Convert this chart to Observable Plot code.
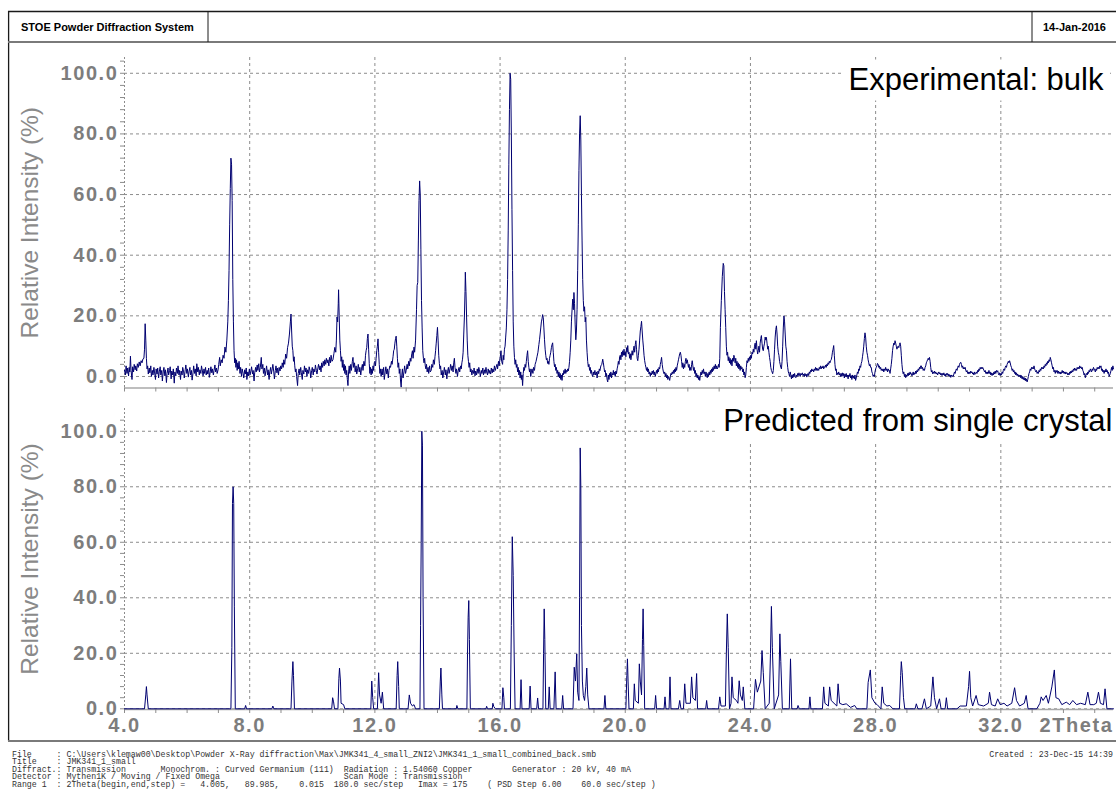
<!DOCTYPE html>
<html><head><meta charset="utf-8">
<script src="https://cdn.jsdelivr.net/npm/d3@7"></script>
<script src="https://cdn.jsdelivr.net/npm/@observablehq/plot@0.6"></script>
<style>
html,body{margin:0;padding:0;background:#fff;}
#page{position:relative;width:1116px;height:789px;overflow:hidden;background:#fff;}
#page svg{position:absolute;left:0;}
</style></head>
<body><div id="page"></div>
<script>
// ---------- data ----------
const xLabelTicks = [4, 8, 12, 16, 20, 24, 28, 32];
const xGridTicks = [8, 12, 16, 20, 24, 28, 32];
const xMinorTicks = [4,5,6,7,8,9,10,11,12,13,14,15,16,17,18,19,20,21,22,23,24,25,26,27,28,29,30,31,32,33,34,35];
const yLabelTicks = [0, 20, 40, 60, 80, 100];
const yMinorTicks = [0,4,8,12,16,20,24,28,32,36,40,44,48,52,56,60,64,68,72,76,80,84,88,92,96,100,104];
const panelTitles = ["Experimental: bulk", "Predicted from single crystal"];
const yTitle = "Relative Intensity (%)";
const xTitle = "2Theta";
const headerLeft = "STOE Powder Diffraction System";
const headerDate = "14-Jan-2016";
const footerLines = [
"File     : C:\\Users\\klemaw00\\Desktop\\Powder X-Ray diffraction\\Max\\JMK341_4_small_ZNI2\\JMK341_1_small_combined_back.smb",
"Title    : JMK341_1_small",
"Diffract.: Transmission       Monochrom. : Curved Germanium (111)  Radiation : 1.54060 Copper        Generator : 20 kV, 40 mA",
"Detector : Mythen1K / Moving / Fixed Omega                         Scan Mode : Transmission",
"Range 1  : 2Theta(begin,end,step) =   4.005,   89.985,    0.015  180.0 sec/step   Imax = 175    ( PSD Step 6.00    60.0 sec/step )"
];
const footerCreated = "Created : 23-Dec-15 14:39";

// experimental pattern [2theta, relative intensity]
const experimental = [
[4.00,2.0],[4.03,0.5],[4.05,3.5],[4.08,1.0],[4.10,2.8],[4.13,0.2],[4.15,3.0],[4.17,1.5],[4.19,6.7],[4.21,2.0],[4.24,-1.0],[4.26,3.2],[4.29,1.5],[4.31,4.0],[4.34,2.2],[4.36,3.5],[4.39,1.8],[4.41,4.2],[4.44,3.0],[4.47,4.8],[4.50,3.5],[4.53,5.2],[4.56,4.5],[4.59,5.8],[4.62,6.0],[4.64,9.0],[4.66,17.4],[4.68,12.0],[4.70,6.0],[4.72,2.5],
[4.74,3.5],[4.76,0.8],[4.79,2.8],[4.81,1.2],[4.84,3.5],[4.86,0.0],[4.89,2.0],[4.91,0.5],[4.94,3.0],[4.96,1.5],[4.99,-1.0],[5.01,2.5],[5.04,0.8],[5.06,2.8],[5.09,-0.5],[5.11,1.5],[5.14,3.2],[5.16,0.5],[5.19,2.0],[5.21,-1.5],[5.24,1.8],[5.26,3.0],[5.29,0.2],[5.31,2.2],[5.34,-2.0],[5.36,1.0],[5.39,2.8],[5.41,0.5],[5.44,2.0],[5.46,3.2],[5.49,-0.8],[5.51,1.8],[5.54,0.5],[5.56,2.5],[5.59,-2.2],[5.61,1.5],[5.64,0.2],[5.66,2.8],[5.69,1.0],[5.71,3.5],[5.74,0.5],[5.76,2.0],[5.79,-1.0],[5.81,1.8],[5.84,0.5],[5.86,3.0],[5.89,1.5],[5.91,-0.5],[5.94,2.2],[5.96,3.8],[5.99,1.0],[6.01,2.5],[6.04,-0.2],[6.06,1.5],[6.09,3.0],[6.11,0.5],[6.14,2.0],[6.16,-1.2],[6.19,1.2],[6.21,3.5],[6.24,1.0],[6.26,2.5],[6.29,0.2],[6.31,4.2],[6.34,1.5],[6.36,3.0],[6.39,0.5],[6.41,2.2],[6.44,1.0],[6.46,3.5],[6.49,1.8],[6.51,0.2],[6.54,2.5],[6.56,1.0],[6.59,3.0],[6.61,0.5],[6.64,2.0],[6.66,0.8],[6.69,2.8],[6.71,-0.3],[6.74,1.5],[6.76,3.2],[6.79,1.2],[6.81,2.5],[6.84,0.5],[6.86,2.0],[6.89,3.8],[6.91,1.5],[6.94,2.8],[6.96,1.0],[6.99,2.2],
[7.01,4.0],[7.04,6.3],[7.06,3.5],[7.09,5.5],[7.12,4.5],[7.15,7.0],[7.18,6.0],[7.21,9.7],[7.24,8.0],[7.27,12.0],[7.30,18.0],[7.32,25.0],[7.34,35.0],[7.36,50.0],[7.38,62.0],[7.40,72.0],[7.42,70.0],[7.44,58.0],[7.46,32.0],[7.48,18.0],[7.50,8.5],[7.52,4.5],[7.54,6.0],[7.56,3.0],[7.58,5.5],[7.60,2.0],[7.62,4.5],[7.64,2.5],[7.66,5.0],
[7.69,1.0],[7.71,3.0],[7.74,0.0],[7.76,2.5],[7.79,1.0],[7.81,-0.5],[7.84,2.2],[7.86,0.8],[7.89,2.8],[7.91,-1.0],[7.94,1.5],[7.96,0.2],[7.99,2.5],[8.01,0.5],[8.04,1.8],[8.06,3.2],[8.09,0.8],[8.11,2.0],[8.14,-1.5],[8.16,1.2],[8.19,3.0],[8.21,1.5],[8.24,3.8],[8.26,2.0],[8.29,4.2],[8.31,1.5],[8.34,3.0],[8.37,6.3],[8.39,2.5],[8.42,4.0],[8.44,1.0],[8.47,2.8],[8.49,0.2],[8.52,2.0],[8.54,3.5],[8.57,0.5],[8.59,2.2],[8.62,-1.0],[8.64,1.5],[8.67,3.0],[8.69,0.8],[8.72,2.5],[8.74,4.0],[8.77,1.5],[8.79,-0.8],[8.82,2.0],[8.84,3.5],[8.87,1.2],[8.89,2.8],[8.92,0.5],[8.94,3.0],[8.97,1.8],[8.99,3.5],[9.02,2.5],[9.04,4.5],[9.07,3.0],[9.09,5.5],[9.12,4.0],
[9.15,7.4],[9.18,6.0],[9.21,9.5],[9.24,11.0],[9.27,14.0],[9.30,18.0],[9.32,20.6],[9.34,15.0],[9.36,10.0],[9.38,8.5],[9.40,5.0],[9.42,6.5],[9.44,3.5],[9.46,1.5],[9.48,2.5],[9.50,0.0],[9.53,-3.0],[9.55,1.0],
[9.58,2.5],[9.60,0.5],[9.63,3.0],[9.65,1.2],[9.68,-1.0],[9.70,2.0],[9.73,0.8],[9.75,3.5],[9.78,1.5],[9.80,2.8],[9.83,0.0],[9.85,2.2],[9.88,1.0],[9.90,3.2],[9.93,1.8],[9.95,-0.5],[9.98,2.0],[10.00,3.0],[10.03,0.5],[10.05,2.5],[10.08,1.5],[10.10,3.8],[10.13,2.0],[10.15,0.8],[10.18,2.8],[10.20,4.0],[10.23,2.2],[10.25,3.5],[10.28,1.5],[10.30,4.5],[10.33,3.0],[10.35,5.0],[10.38,3.5],[10.40,5.5],[10.43,4.0],[10.45,6.0],[10.48,4.5],[10.50,5.5],[10.53,3.5],[10.55,6.3],[10.58,4.5],[10.60,7.0],[10.63,5.0],[10.66,5.5],[10.69,7.5],
[10.72,9.6],[10.75,8.0],[10.77,12.0],[10.79,19.6],[10.81,18.0],[10.83,24.0],[10.84,28.6],[10.86,20.0],[10.88,12.0],[10.90,8.5],[10.92,5.0],[10.94,6.5],[10.96,3.0],[10.98,5.5],[11.00,2.0],[11.02,4.0],[11.04,1.0],[11.06,3.5],[11.08,0.5],[11.10,2.0],[11.12,-1.0],[11.14,-3.0],[11.16,1.5],
[11.18,3.5],[11.20,1.0],[11.23,4.0],[11.25,2.0],[11.28,5.0],[11.30,6.3],[11.32,3.0],[11.35,4.5],[11.37,1.5],[11.40,3.5],[11.42,0.8],[11.45,2.5],[11.47,4.0],[11.50,1.5],[11.52,3.0],[11.55,0.5],[11.57,2.5],[11.60,4.0],[11.62,2.0],[11.65,5.0],[11.68,3.5],[11.70,7.0],
[11.72,8.5],[11.74,9.5],[11.76,12.5],[11.78,14.0],[11.80,9.0],[11.82,4.3],[11.84,1.0],[11.86,3.0],[11.88,0.5],[11.90,2.5],[11.92,1.0],[11.94,3.5],[11.96,2.0],[11.98,4.5],[12.00,5.0],[12.02,3.5],[12.04,6.0],[12.06,8.5],[12.08,10.0],[12.10,12.4],[12.12,8.0],[12.14,4.0],[12.16,1.0],[12.18,2.5],[12.20,0.0],
[12.23,2.5],[12.25,0.5],[12.28,3.0],[12.30,-1.0],[12.33,1.5],[12.35,3.2],[12.38,0.8],[12.40,2.5],[12.43,-0.5],[12.45,2.0],[12.48,3.5],[12.50,3.0],[12.53,5.0],[12.55,4.0],[12.58,6.5],[12.60,8.5],[12.62,9.0],[12.64,11.0],[12.66,12.5],[12.68,13.3],[12.70,10.0],[12.72,6.0],[12.74,3.0],[12.76,4.5],[12.78,1.0],[12.80,2.5],[12.82,-1.5],[12.84,-3.5],[12.86,0.5],[12.88,2.5],[12.90,-0.5],[12.93,1.5],[12.95,3.5],[12.98,1.0],[13.00,2.0],[13.03,4.0],[13.05,2.5],[13.08,5.0],[13.10,3.5],[13.13,6.0],[13.15,5.0],[13.18,7.5],[13.20,8.5],[13.22,6.0],[13.25,9.7],[13.27,8.0],
[13.30,12.0],[13.33,22.0],[13.35,30.0],[13.37,31.0],[13.39,45.0],[13.41,58.0],[13.43,64.5],[13.45,60.0],[13.47,42.0],[13.49,25.0],[13.51,16.0],[13.53,8.5],[13.55,6.0],[13.57,4.5],[13.59,6.0],[13.61,3.5],[13.63,2.5],[13.65,4.0],[13.67,1.5],
[13.70,3.0],[13.72,1.0],[13.75,3.5],[13.77,1.5],[13.80,2.0],[13.82,4.0],[13.85,3.0],[13.87,5.5],[13.90,4.0],[13.92,6.5],[13.94,8.5],[13.96,11.0],[13.98,13.5],[14.00,16.2],[14.02,12.0],[14.04,7.0],[14.06,4.3],[14.08,2.5],[14.10,3.5],[14.12,0.5],[14.15,2.0],[14.17,-0.5],[14.20,1.5],[14.22,3.0],[14.25,0.5],[14.27,2.2],[14.30,-0.8],[14.32,1.5],[14.35,3.0],[14.37,1.0],[14.40,2.5],[14.42,4.0],[14.45,2.0],[14.47,3.5],[14.50,1.5],[14.52,4.5],[14.54,6.0],[14.56,3.0],[14.59,1.0],[14.61,2.5],[14.64,0.0],[14.66,1.8],[14.69,3.0],[14.71,1.5],[14.74,3.5],[14.76,2.5],[14.78,4.5],[14.80,5.7],
[14.82,8.0],[14.84,14.0],[14.86,19.6],[14.88,28.0],[14.89,34.4],[14.91,28.0],[14.93,19.6],[14.95,12.0],[14.97,7.0],[14.99,5.0],[15.01,3.0],[15.03,4.5],[15.05,1.5],
[15.07,2.5],[15.10,0.5],[15.12,2.0],[15.15,1.0],[15.17,2.8],[15.20,0.2],[15.22,1.8],[15.25,0.5],[15.27,2.5],[15.30,1.0],[15.32,3.0],[15.35,1.5],[15.37,0.0],[15.40,2.0],[15.42,1.0],[15.45,2.8],[15.47,0.5],[15.50,2.2],[15.52,1.0],[15.55,3.0],[15.57,1.5],[15.60,0.5],[15.62,2.5],[15.65,1.0],[15.67,2.0],[15.70,0.8],[15.72,2.8],[15.75,1.2],[15.77,2.5],[15.80,1.5],[15.82,3.5],[15.85,2.0],[15.87,3.0],[15.90,4.0],[15.92,2.5],[15.95,5.0],[15.97,3.5],[16.00,6.0],[16.03,8.5],[16.05,5.0],
[16.08,4.0],[16.10,7.0],[16.12,5.5],[16.14,9.0],[16.16,10.0],[16.18,13.0],[16.20,16.0],[16.22,22.0],[16.24,32.0],[16.26,48.0],[16.28,70.0],[16.30,88.0],[16.32,100.0],[16.34,98.0],[16.36,80.0],[16.38,55.0],[16.40,35.0],[16.42,18.0],[16.44,10.0],[16.46,6.3],[16.48,4.0],[16.50,5.5],[16.52,3.0],[16.54,4.0],[16.56,1.5],[16.58,3.0],[16.60,0.5],[16.62,2.0],[16.64,-0.5],[16.66,1.5],[16.68,-1.0],[16.70,0.5],[16.72,-3.0],[16.74,1.0],[16.76,3.0],[16.78,2.0],[16.80,4.0],[16.82,3.0],[16.84,5.0],[16.86,7.0],[16.88,8.5],[16.90,5.0],[16.92,3.0],[16.94,1.5],[16.96,2.5],[16.98,0.0],[17.00,1.5],
[17.02,2.5],[17.05,1.0],[17.07,3.0],[17.10,2.0],[17.12,4.0],[17.15,5.0],[17.18,6.5],[17.21,8.0],[17.24,10.5],[17.26,12.1],[17.28,14.0],[17.30,16.0],[17.32,18.0],[17.34,19.0],[17.36,20.4],[17.38,19.5],[17.40,16.0],[17.42,12.1],[17.44,9.0],[17.46,7.0],[17.48,5.5],[17.50,6.0],[17.52,4.3],[17.54,5.0],[17.56,4.0],[17.58,6.0],[17.60,7.0],[17.62,8.0],[17.64,9.5],[17.66,10.5],[17.68,11.1],[17.70,8.0],[17.72,5.0],[17.74,3.2],[17.76,4.0],[17.78,2.0],[17.80,3.0],[17.82,1.0],[17.84,2.0],[17.86,0.0],[17.88,1.5],[17.90,-0.5],[17.92,1.0],[17.94,-1.0],[17.96,0.5],[17.98,-1.3],[18.00,1.0],[18.02,0.5],[18.04,2.0],[18.06,1.0],[18.08,2.5],[18.10,1.0],[18.12,2.0],[18.14,1.5],[18.16,2.5],[18.18,1.8],[18.20,3.0],
[18.22,5.0],[18.24,8.0],[18.26,12.0],[18.28,18.0],[18.30,22.0],[18.32,25.5],[18.34,22.0],[18.36,27.7],[18.38,24.0],[18.40,17.0],[18.42,12.1],[18.44,15.0],[18.46,22.0],[18.48,35.0],[18.50,50.0],[18.52,68.0],[18.54,80.0],[18.56,86.0],[18.58,78.0],[18.60,60.0],[18.62,45.0],[18.64,32.0],[18.66,25.0],[18.68,21.5],[18.70,23.0],[18.72,18.0],[18.74,19.5],[18.76,12.0],[18.78,8.0],[18.80,5.0],[18.82,3.2],[18.84,4.0],[18.86,2.0],[18.88,3.0],[18.90,1.0],[18.92,2.0],[18.94,0.5],[18.96,0.0],[18.98,1.5],[19.00,0.5],[19.03,2.0],[19.05,0.5],[19.08,1.5],[19.10,-0.5],[19.13,1.8],[19.15,0.9],[19.17,2.5],[19.19,1.9],
[19.22,3.5],[19.25,4.0],[19.28,5.7],[19.30,4.5],[19.32,3.0],[19.34,1.5],[19.36,2.0],[19.38,0.0],[19.40,1.0],[19.42,-1.0],[19.44,-1.8],[19.46,0.5],[19.48,-1.0],[19.50,1.0],[19.52,0.0],[19.54,1.5],[19.56,-0.5],[19.58,1.0],[19.60,0.5],[19.62,2.0],[19.64,0.5],[19.66,1.5],[19.68,0.0],[19.70,1.8],[19.72,0.9],[19.74,2.5],[19.76,3.5],[19.78,5.0],[19.80,4.0],[19.82,6.5],[19.84,7.0],[19.86,5.5],[19.88,8.0],[19.90,6.5],[19.92,8.5],[19.94,7.0],[19.96,9.0],[19.98,7.0],[20.00,8.0],[20.02,6.5],[20.04,9.5],[20.06,8.0],[20.08,10.2],[20.10,7.4],[20.12,8.0],[20.14,6.0],[20.16,7.5],[20.18,5.5],[20.20,7.0],[20.22,8.5],[20.24,7.0],[20.26,8.5],[20.28,10.0],[20.30,8.0],[20.32,10.5],[20.34,11.8],[20.36,9.0],[20.38,6.0],[20.40,5.2],[20.42,7.0],[20.44,9.0],[20.46,12.0],[20.48,15.0],[20.50,16.5],[20.52,18.2],[20.54,15.0],[20.56,12.0],[20.58,9.7],[20.60,7.0],[20.62,5.2],[20.64,4.0],[20.66,3.0],[20.68,2.0],[20.70,3.0],[20.72,1.5],[20.74,2.5],[20.76,0.8],[20.78,1.5],[20.80,0.0],[20.82,1.2],[20.84,0.5],[20.86,1.8],[20.88,0.9],[20.90,2.0],
[20.92,0.5],[20.94,1.5],[20.96,0.0],[20.98,1.0],[21.00,2.0],[21.02,1.0],[21.04,2.5],[21.06,1.5],[21.08,3.0],[21.10,2.5],[21.12,4.0],[21.14,5.0],[21.16,6.3],[21.18,4.0],[21.20,2.5],[21.22,1.5],[21.24,0.9],[21.26,1.5],[21.28,0.0],[21.30,1.0],[21.32,-0.5],[21.34,0.5],[21.36,-1.0],[21.38,0.0],[21.40,-0.5],[21.42,-1.3],[21.44,0.0],[21.46,1.0],[21.48,0.5],[21.50,1.5],[21.52,0.9],[21.54,2.0],[21.56,1.0],[21.58,2.5],[21.60,1.5],[21.62,3.0],[21.64,2.0],[21.66,3.5],[21.68,4.5],[21.70,5.5],[21.72,6.5],[21.74,7.5],[21.76,8.0],[21.78,7.0],[21.80,5.0],[21.82,3.0],[21.84,4.5],[21.86,2.5],[21.88,4.0],[21.90,3.0],[21.92,5.0],[21.94,6.0],[21.96,4.3],[21.98,5.5],[22.00,4.3],[22.02,3.0],[22.04,4.0],[22.06,2.0],[22.08,3.0],[22.10,2.0],[22.12,4.0],[22.14,5.2],[22.16,3.5],[22.18,2.0],[22.20,3.0],[22.22,1.0],[22.24,2.0],[22.26,0.0],[22.28,1.0],[22.30,-0.5],[22.32,0.5],[22.34,-1.0],[22.36,0.0],[22.38,-1.3],[22.40,0.5],[22.42,1.5],[22.44,0.5],[22.46,2.0],[22.48,1.0],[22.50,2.5],[22.52,0.9],[22.54,1.5],[22.56,0.0],[22.58,1.5],[22.60,0.5],[22.62,-0.4],[22.64,1.0],[22.66,0.0],[22.68,1.5],[22.70,0.5],[22.72,2.0],[22.74,1.0],[22.76,2.5],[22.78,1.5],[22.80,3.0],[22.82,2.0],[22.84,3.5],[22.86,2.5],[22.88,4.0],[22.90,2.5],[22.92,3.5],[22.94,2.5],[22.96,3.0],
[22.98,4.0],[23.00,3.0],[23.02,6.0],[23.04,16.2],[23.07,25.0],[23.10,32.9],[23.13,37.3],[23.15,36.5],[23.17,28.0],[23.19,22.0],[23.21,16.2],[23.23,10.0],[23.25,7.0],[23.27,8.0],[23.29,5.2],
[23.31,6.5],[23.33,4.5],[23.35,6.0],[23.37,4.0],[23.39,5.5],[23.41,3.5],[23.43,6.0],[23.45,5.0],[23.47,7.0],[23.49,6.3],[23.51,4.5],[23.53,6.0],[23.55,3.5],[23.57,5.0],[23.59,3.0],[23.61,4.5],[23.63,2.5],[23.65,4.0],[23.67,2.0],[23.69,3.5],[23.71,2.5],[23.73,3.0],[23.75,1.5],[23.77,2.5],[23.79,0.5],[23.81,1.5],[23.83,-0.4],[23.85,0.5],[23.87,3.0],[23.89,5.2],[23.91,4.5],[23.93,6.0],[23.95,5.0],[23.97,6.5],[23.99,5.5],[24.01,7.0],[24.03,6.0],[24.05,8.0],[24.07,7.4],[24.09,9.0],[24.11,8.0],[24.13,10.0],[24.15,11.0],[24.17,9.0],[24.19,11.8],[24.21,9.0],[24.23,7.4],[24.25,8.5],[24.27,10.0],[24.29,8.0],[24.31,11.0],[24.33,12.5],[24.35,13.5],[24.37,11.0],[24.39,9.0],[24.41,8.5],[24.43,10.0],[24.45,11.0],[24.47,13.0],[24.49,12.0],
[24.51,12.9],[24.53,11.0],[24.55,9.0],[24.57,10.0],[24.59,8.0],[24.61,6.3],[24.63,5.0],[24.65,3.0],[24.67,2.0],[24.69,1.5],[24.71,0.9],[24.73,2.0],[24.75,5.0],[24.77,9.0],[24.79,13.0],[24.81,15.5],[24.83,16.7],[24.85,14.0],[24.87,10.0],[24.89,8.0],[24.91,7.0],[24.93,5.0],[24.95,4.0],[24.97,3.0],[24.99,2.5],[25.01,5.0],[25.03,10.0],[25.05,16.0],[25.07,20.0],[25.09,18.0],[25.11,14.0],[25.13,10.0],[25.15,8.5],[25.17,5.0],[25.19,3.0],[25.21,1.5],[25.23,0.9],
[25.25,0.0],[25.27,1.5],[25.29,0.5],[25.31,-0.8],[25.33,0.5],[25.35,-0.5],[25.37,0.8],[25.39,-0.2],[25.41,1.0],[25.43,0.0],[25.45,-0.4],[25.47,0.5],[25.49,0.0],[25.51,1.0],[25.53,0.3],[25.55,1.2],[25.57,0.5],[25.59,0.0],[25.61,1.0],[25.63,0.5],[25.66,1.2],[25.68,0.3],[25.70,0.8],[25.72,0.0],[25.74,1.0],[25.76,0.3],[25.78,0.8],[25.80,-0.2],[25.82,0.5],[25.84,1.0],[25.86,0.3],[25.88,1.5],[25.90,1.0],[25.92,2.0],[25.94,1.5],[25.96,2.5],[25.98,1.8],[26.00,2.2],[26.02,1.5],[26.04,2.5],[26.06,2.0],[26.08,3.0],[26.10,2.0],[26.12,2.8],[26.14,2.0],[26.16,2.5],[26.18,2.0],[26.20,3.0],[26.22,2.5],[26.24,3.5],[26.26,2.5],[26.28,3.2],[26.30,2.8],[26.32,3.5],[26.34,2.5],[26.36,3.2],[26.38,3.0],[26.40,3.8],[26.42,3.0],[26.44,4.0],[26.46,3.5],[26.48,4.5],[26.50,4.0],[26.52,5.0],[26.54,4.5],[26.56,5.2],[26.58,5.5],[26.60,6.5],[26.62,8.0],[26.64,9.0],[26.66,10.2],[26.68,7.0],[26.70,4.0],[26.72,2.0],[26.74,2.5],[26.76,0.5],[26.78,1.2],[26.80,0.7],[26.82,1.5],[26.84,0.5],[26.86,1.0],[26.88,0.0],
[26.90,1.0],[26.92,0.0],[26.94,1.2],[26.96,0.2],[26.98,1.0],[27.00,-0.5],[27.02,0.8],[27.04,0.0],[27.06,1.0],[27.08,-0.2],[27.10,0.5],[27.12,-0.8],[27.14,0.5],[27.16,0.0],[27.18,1.0],[27.20,-0.5],[27.22,0.3],[27.24,-1.0],[27.26,0.5],[27.28,-0.5],[27.30,0.2],[27.32,-0.8],[27.34,0.5],[27.36,-1.3],[27.38,-0.5],[27.40,0.5],[27.42,1.5],[27.44,1.0],[27.46,2.5],[27.48,2.0],[27.50,3.5],[27.52,3.0],[27.54,4.3],[27.56,5.0],[27.58,6.5],[27.60,8.0],[27.62,10.0],[27.64,12.5],[27.66,14.4],[27.68,13.0],[27.70,10.0],[27.72,8.0],[27.74,7.0],[27.76,5.5],[27.78,4.5],[27.80,3.5],[27.82,4.0],[27.84,3.0],[27.86,3.0],[27.88,1.5],[27.90,1.0],[27.92,0.0],[27.94,0.5],[27.96,0.0],[27.98,1.5],[28.00,2.5],[28.02,3.0],[28.04,3.5],[28.06,4.3],[28.08,4.0],
[28.10,3.0],[28.12,3.5],[28.14,2.5],[28.16,3.0],[28.18,2.0],[28.20,2.5],[28.22,1.9],[28.24,2.5],[28.26,1.5],[28.28,2.5],[28.30,2.0],[28.32,3.0],[28.34,2.0],[28.36,2.5],[28.38,1.5],[28.40,2.5],[28.42,1.9],[28.44,2.0],[28.46,1.0],[28.48,2.5],[28.50,4.0],[28.52,6.0],[28.54,8.5],[28.56,10.0],[28.58,11.0],[28.60,10.5],[28.62,11.8],[28.64,11.0],[28.66,10.0],[28.68,9.0],[28.70,9.7],[28.72,10.0],[28.74,9.5],[28.76,10.5],[28.78,11.1],[28.80,10.0],[28.82,7.0],[28.84,4.0],[28.86,2.0],[28.88,0.9],[28.90,1.5],[28.92,0.0],[28.94,0.8],[28.96,-0.4],[28.98,0.5],[29.00,0.0],
[29.02,1.0],[29.04,0.2],[29.06,1.2],[29.08,0.5],[29.10,1.5],[29.12,0.8],[29.14,1.0],[29.16,0.2],[29.18,0.8],[29.20,1.5],[29.22,0.5],[29.24,1.2],[29.26,0.8],[29.28,1.8],[29.30,1.0],[29.32,2.0],[29.34,1.5],[29.36,2.5],[29.38,2.0],[29.40,3.0],[29.42,2.5],[29.44,3.5],[29.46,3.5],[29.48,2.5],[29.50,3.0],[29.52,2.0],[29.54,2.5],[29.56,2.0],[29.58,3.0],[29.60,3.5],[29.62,4.5],[29.64,5.0],[29.66,5.5],[29.68,6.0],[29.70,5.5],[29.72,6.3],[29.74,5.0],[29.76,3.0],[29.78,1.5],[29.80,2.0],[29.82,0.9],[29.84,1.5],[29.86,1.0],[29.88,1.8],[29.90,1.0],[29.92,1.5],[29.94,0.8],[29.96,1.2],[29.98,0.5],[30.00,1.0],[30.02,1.5],[30.04,0.8],[30.06,1.2],[30.08,0.5],[30.10,1.0],[30.12,0.3],[30.14,1.0],[30.16,0.5],[30.18,1.2],[30.20,0.3],[30.22,0.8],[30.24,0.0],[30.26,1.0],[30.28,0.5],[30.30,1.0],[30.32,0.2],[30.34,0.8],[30.36,0.0],[30.38,0.5],[30.40,-0.3],[30.42,0.5],[30.44,0.0],[30.46,0.2],[30.48,0.0],[30.50,0.8],[30.52,1.5],[30.54,1.0],[30.56,2.0],[30.58,2.5],[30.60,2.0],[30.62,3.0],[30.64,3.5],[30.66,3.0],[30.68,4.0],[30.70,4.5],[30.72,4.7],[30.74,4.0],[30.76,3.0],[30.78,3.5],[30.80,2.5],[30.82,3.0],[30.84,2.5],[30.86,3.0],[30.88,2.0],[30.90,1.5],[30.92,2.0],[30.94,1.0],[30.96,1.5],[30.98,0.8],[31.00,1.5],[31.02,1.0],[31.04,1.8],[31.06,1.2],[31.08,1.5],[31.10,0.8],[31.12,1.2],[31.14,0.5],[31.16,1.5],[31.18,0.8],[31.20,0.9],[31.22,1.5],[31.24,1.0],[31.26,2.0],[31.28,1.5],[31.30,2.5],[31.32,2.0],[31.34,3.0],[31.36,2.5],[31.38,3.0],[31.40,2.5],[31.42,3.0],[31.44,2.5],[31.46,2.0],[31.48,1.5],[31.50,2.0],[31.52,1.0],[31.54,1.5],[31.56,0.8],[31.58,1.5],[31.60,1.0],[31.62,2.0],[31.64,1.0],[31.66,1.5],[31.68,0.5],[31.70,1.2],[31.72,0.3],[31.74,1.0],[31.76,0.5],[31.78,1.5],[31.80,0.8],[31.82,1.8],[31.84,1.0],[31.86,2.0],[31.88,1.5],[31.90,1.9],[31.92,1.0],[31.94,0.5],[31.96,1.2],[31.98,0.3],[32.00,1.0],[32.02,0.5],[32.04,1.5],[32.06,1.0],[32.08,2.0],[32.10,2.5],[32.12,2.0],[32.14,3.0],[32.16,3.5],[32.18,3.0],[32.20,4.0],[32.22,4.5],[32.24,5.0],[32.26,4.5],[32.28,5.2],[32.30,4.5],[32.32,3.5],[32.34,3.0],[32.36,2.0],[32.38,2.5],[32.40,1.5],[32.42,2.0],[32.44,1.0],[32.46,1.5],[32.48,0.5],[32.50,1.2],[32.52,0.3],[32.54,0.8],[32.56,0.0],[32.58,0.5],[32.60,0.0],[32.62,0.5],[32.64,-0.5],[32.66,0.3],[32.68,-0.8],[32.70,0.0],[32.72,-1.0],[32.74,-0.3],[32.76,-1.2],[32.78,-0.5],[32.80,-1.5],[32.82,-0.8],[32.84,-1.8],[32.86,-1.0],[32.88,0.0],[32.90,1.0],[32.92,1.5],[32.94,2.5],[32.96,2.0],[32.98,3.0],[33.00,2.5],[33.02,3.0],[33.04,2.5],[33.06,3.5],[33.08,2.5],[33.10,2.0],[33.12,1.5],[33.14,2.0],[33.16,1.0],[33.18,1.5],[33.20,1.0],[33.22,2.0],[33.24,1.5],[33.26,2.5],[33.28,2.0],[33.30,3.0],[33.32,2.5],[33.34,3.0],[33.36,2.5],[33.38,3.5],[33.40,3.0],[33.42,4.0],[33.44,3.5],[33.46,4.5],[33.48,4.0],[33.50,5.0],[33.52,4.5],[33.54,5.5],[33.56,5.0],[33.58,6.3],[33.60,5.5],[33.62,4.5],[33.64,3.5],[33.66,2.5],[33.68,3.0],[33.70,1.5],[33.72,2.0],[33.74,1.0],[33.76,2.0],[33.78,1.4],[33.80,2.0],[33.82,1.0],[33.84,1.8],[33.86,1.0],[33.88,1.5],[33.90,0.8],[33.92,1.5],[33.94,1.0],[33.96,2.0],[33.98,1.2],[34.00,1.8],[34.02,1.0],[34.04,1.5],[34.06,0.8],[34.08,1.5],[34.10,1.0],[34.12,1.2],[34.14,0.5],[34.16,1.0],[34.18,0.5],[34.20,1.5],[34.22,1.0],[34.24,1.8],[34.26,1.2],[34.28,2.0],[34.30,1.5],[34.32,2.5],[34.34,2.0],[34.36,2.8],[34.38,2.0],[34.40,2.5],[34.42,2.0],[34.44,3.0],[34.46,2.5],[34.48,3.0],[34.50,2.5],[34.52,3.5],[34.54,2.8],[34.56,3.2],[34.58,2.5],[34.60,3.0],[34.62,2.0],[34.64,1.5],[34.66,0.5],[34.68,1.0],[34.70,-0.4],[34.72,0.5],[34.74,1.0],[34.76,0.5],[34.78,1.5],[34.80,1.0],[34.82,2.0],[34.84,1.5],[34.86,2.5],[34.88,2.0],[34.90,1.5],[34.92,2.5],[34.94,2.0],[34.96,3.0],[34.98,2.5],[35.00,2.0],[35.02,1.5],[35.04,2.5],[35.06,2.0],[35.08,3.0],[35.10,2.5],[35.12,3.0],[35.14,2.5],[35.16,3.5],[35.18,3.0],[35.20,3.5],[35.22,2.0],[35.24,2.5],[35.26,1.5],[35.28,2.0],[35.30,1.0],[35.32,2.0],[35.34,1.5],[35.36,2.5],[35.38,1.5],[35.40,2.0],[35.42,1.0],[35.44,1.5],[35.46,0.0],[35.48,0.5],[35.50,1.0],[35.52,2.0],[35.54,3.0],[35.56,2.0],[35.58,3.5],[35.60,2.5]
];

// predicted pattern [2theta, relative intensity]
const predicted = [
[4.00,0],[4.64,0],[4.68,5],[4.70,8],[4.72,5],[4.76,0],
[7.40,0],[7.43,22],[7.45,74],[7.47,80],[7.49,74],[7.51,37],[7.54,0],
[7.84,0],[7.87,1.2],[7.90,0],
[8.71,0],[8.74,1],[8.77,0],
[9.32,0],[9.35,10],[9.38,17],[9.40,12],[9.43,0],
[10.62,0],[10.65,4],[10.68,2.5],[10.71,0],
[10.82,0],[10.85,11],[10.87,14.7],[10.90,10],[10.92,2],[11.00,1.5],[11.04,0],
[11.87,0],[11.90,10],[11.93,4],[11.96,0],
[12.08,0],[12.12,13],[12.15,5],[12.20,2],[12.24,6],[12.28,0],
[12.68,0],[12.71,12],[12.73,17],[12.76,8],[12.78,0],
[13.06,0],[13.10,5],[13.14,2],[13.20,1],[13.25,1.5],[13.30,0],
[13.44,0],[13.46,30],[13.48,60],[13.50,100],[13.52,95],[13.54,40],[13.57,0],
[14.06,0],[14.09,10],[14.11,14.7],[14.14,5],[14.16,0],
[14.60,0],[14.62,1.2],[14.65,0],
[14.94,0],[14.96,20],[14.98,33],[15.00,39],[15.02,25],[15.05,0],
[15.55,0],[15.57,0.9],[15.60,0],[15.75,0],[15.77,2],[15.80,0.8],[15.85,0],
[16.06,0],[16.09,7.6],[16.12,4],[16.14,0],
[16.33,0],[16.36,30],[16.39,62],[16.42,48],[16.45,20],[16.48,0],
[16.64,0],[16.67,10.5],[16.70,0],
[16.93,0],[16.96,8.2],[16.99,0],
[17.17,0],[17.20,3.9],[17.23,0],
[17.37,0],[17.39,20],[17.41,36],[17.43,25],[17.46,0],
[17.54,0],[17.57,7.9],[17.60,0],
[17.72,0],[17.76,13.3],[17.79,0],
[17.97,0],[18.00,4.8],[18.03,0],
[18.33,0],[18.37,15],[18.41,10],[18.45,19.8],[18.48,6],[18.52,3],[18.54,40],[18.56,94],[18.58,80],[18.60,30],[18.63,10],[18.66,4.8],[18.70,3],[18.74,8],[18.77,14.7],[18.80,5],[18.84,0],
[19.32,0],[19.35,4.8],[19.38,0],
[20.02,0],[20.05,12],[20.07,18],[20.09,10],[20.12,0],[20.26,0],[20.29,9],[20.32,3],[20.42,2],[20.45,16.2],[20.48,10],[20.52,5],[20.55,25],[20.57,36],[20.59,22.8],[20.62,0],
[20.94,0],[20.97,4.8],[21.00,0],
[21.24,0],[21.27,4.3],[21.30,0],[21.40,0],[21.43,11.5],[21.46,0],
[21.70,0],[21.74,3],[21.78,0],[21.86,0],[21.90,9],[21.94,2],[22.08,2],[22.12,11.5],[22.16,4],[22.24,3],[22.28,12.7],[22.31,0],
[22.57,0],[22.60,3],[22.63,0],
[22.98,0],[23.02,4.3],[23.06,1],[23.20,1],[23.23,20],[23.26,34.2],[23.29,22],[23.33,0],[23.38,2],[23.41,11.5],[23.45,4],[23.55,3],[23.60,2],[23.64,10.1],[23.68,5],[23.74,3],[23.77,7.9],[23.82,0],
[24.10,0],[24.16,10.6],[24.22,6],[24.33,10],[24.37,21],[24.41,13],[24.47,0],[24.60,2],[24.64,20],[24.67,36.9],[24.70,22],[24.76,0],[24.90,5],[24.94,27],[24.97,17],[25.02,0],[25.24,0],[25.28,18],[25.32,0],
[25.49,0],[25.52,1.2],[25.56,0],[25.87,0],[25.90,4.3],[25.93,0],
[26.30,0],[26.34,7.9],[26.38,2],[26.49,1],[26.53,7.9],[26.58,3],[26.76,1],[26.80,9],[26.85,2],[26.95,1.5],[27.06,1.8],[27.20,0.5],[27.33,1.2],[27.40,0],
[27.72,0],[27.76,9.5],[27.83,14],[27.88,4],[27.98,2],[28.05,1.5],[28.17,0],[28.21,7.9],[28.26,2],[28.36,1],[28.45,1.2],[28.55,0],
[28.76,0],[28.80,12],[28.82,17],[28.85,13],[28.89,4],[28.93,0],
[29.26,0],[29.30,1.8],[29.35,0],[29.48,0],[29.56,3.6],[29.62,0],[29.76,1],[29.83,11.5],[29.88,4],[29.95,0],[30.04,3.6],[30.09,0],[30.22,0],[30.26,4],[30.30,0],
[30.60,0],[30.70,1],[30.90,1],[30.97,8],[31.00,13.5],[31.04,4],[31.10,1],[31.21,4.8],[31.28,1.5],[31.45,1],[31.60,2],[31.64,6],[31.70,1.5],[31.82,1],[31.90,3.6],[31.98,1.5],[32.10,2],[32.20,1],[32.35,2],[32.44,7.6],[32.50,3],[32.60,1],[32.75,2],[32.81,4.8],[32.87,0],
[33.15,0],[33.25,2],[33.29,4.3],[33.35,3],[33.45,4.8],[33.52,2],[33.63,7.9],[33.71,14],[33.76,4],[33.85,3.6],[33.95,1.5],[34.09,2.4],[34.20,1.5],[34.30,3],[34.42,1.5],[34.55,2],[34.70,1.5],[34.78,6],[34.85,1.5],[34.97,1.5],[35.05,2],[35.12,6],[35.18,2],[35.28,1.5],[35.33,7.2],[35.39,0],[35.60,0]
];

// ---------- layout ----------
const xDomain = [4, 35.6];
const SANS = "'Liberation Sans', Arial, sans-serif";
const gridColor = "#8c8c8c";
const lineColor = "#000070";
const labelGray = "#7d7d7d";
const page = document.getElementById("page");

function panel({data, yDomain, top, height, marginTop, marginBottom, title, titleDx, titleDy, xLabels}) {
  const rows = data.map(([theta, intensity]) => ({theta, intensity}));
  const marks = [
    Plot.ruleY(yLabelTicks, {stroke: gridColor, strokeDasharray: "3,3", strokeWidth: 1}),
    Plot.ruleX(xGridTicks, {stroke: gridColor, strokeDasharray: "3,3", strokeWidth: 1}),
    Plot.ruleX([xDomain[0]], {stroke: gridColor, strokeDasharray: "2,2", strokeWidth: 1}),
    Plot.ruleY([yDomain[0]], {stroke: "#a8a8a8", strokeWidth: 1.5}),
    Plot.axisY({ticks: yMinorTicks, tickSize: 4, tickFormat: () => "", label: null, stroke: gridColor}),
    Plot.axisX({ticks: xMinorTicks, tickSize: 4, tickFormat: () => "", label: null, stroke: gridColor}),
    Plot.line(rows, {x: "theta", y: "intensity", stroke: lineColor, strokeWidth: 1}),
    Plot.text(yLabelTicks, {y: d => d, frameAnchor: "left", dx: -6, textAnchor: "end", lineAnchor: "middle",
      text: d => d.toFixed(1), fontSize: 20, fontWeight: "bold", fill: labelGray, fontFamily: SANS}),
    Plot.text([yTitle], {frameAnchor: "left", dx: -94, rotate: -90, textAnchor: "middle", lineAnchor: "middle",
      fontSize: 24.5, fill: "#8a8a8a", fontFamily: SANS}),
    Plot.text([title], {frameAnchor: "top-right", dx: titleDx, dy: titleDy, textAnchor: "end", lineAnchor: "bottom",
      fontSize: 31, fill: "#000", fontFamily: SANS})
  ];
  if (xLabels) {
    marks.push(Plot.text(xLabelTicks, {x: d => d, frameAnchor: "bottom", dy: 16, lineAnchor: "middle",
      text: d => d.toFixed(1), fontSize: 20, fontWeight: "bold", fill: labelGray, fontFamily: SANS}));
    marks.push(Plot.text([xTitle], {frameAnchor: "bottom-right", dy: 16, textAnchor: "end", lineAnchor: "middle",
      fontSize: 20, fontWeight: "bold", fill: labelGray, fontFamily: SANS}));
  }
  const svg = Plot.plot({
    width: 1116, height, marginLeft: 124, marginRight: 3, marginTop, marginBottom,
    x: {domain: xDomain, label: null}, y: {domain: yDomain, label: null},
    style: {background: "transparent", overflow: "visible", fontFamily: SANS},
    marks
  });
  svg.style.top = top + "px";
  page.appendChild(svg);
  // tick labels letter spacing, title white backgrounds
  svg.querySelectorAll("text").forEach(t => {
    const s = t.textContent;
    if (/^\d+\.\d$/.test(s) || s === xTitle) t.setAttribute("letter-spacing", "1.6");
    if (panelTitles.includes(s)) {
      const b = t.getBBox();
      const r = document.createElementNS("http://www.w3.org/2000/svg", "rect");
      r.setAttribute("x", b.x - 6); r.setAttribute("y", b.y - 2);
      r.setAttribute("width", b.width + 12); r.setAttribute("height", b.height + 6);
      r.setAttribute("fill", "#fff");
      if (t.getAttribute("transform")) r.setAttribute("transform", t.getAttribute("transform"));
      t.parentNode.insertBefore(r, t);
    }
  });
  return svg;
}

panel({data: experimental, yDomain: [-3.8, 105.2], top: 44, height: 352, marginTop: 13, marginBottom: 8.5,
  title: panelTitles[0], titleDx: -10, titleDy: 32, xLabels: false});
panel({data: predicted, yDomain: [-0.25, 108.2], top: 392, height: 346, marginTop: 16, marginBottom: 29,
  title: panelTitles[1], titleDx: -1, titleDy: 22, xLabels: true});

// ---------- frame, header, footer ----------
const ov = d3.select(page).append("svg").attr("width", 1116).attr("height", 789)
  .style("top", "0px").style("pointer-events", "none");
ov.append("line").attr("x1", 8).attr("x2", 1116).attr("y1", 11.5).attr("y2", 11.5).attr("stroke", "#1a1a1a").attr("stroke-width", 1.3);
ov.append("line").attr("x1", 8.6).attr("x2", 8.6).attr("y1", 11).attr("y2", 741).attr("stroke", "#1a1a1a").attr("stroke-width", 1.3);
ov.append("line").attr("x1", 8).attr("x2", 1116).attr("y1", 42).attr("y2", 42).attr("stroke", "#7a7a7a").attr("stroke-width", 2);
ov.append("line").attr("x1", 208).attr("x2", 208).attr("y1", 11.5).attr("y2", 42).attr("stroke", "#1a1a1a").attr("stroke-width", 1);
ov.append("line").attr("x1", 1032).attr("x2", 1032).attr("y1", 11.5).attr("y2", 42).attr("stroke", "#1a1a1a").attr("stroke-width", 1);
ov.append("line").attr("x1", 8).attr("x2", 1116).attr("y1", 741).attr("y2", 741).attr("stroke", "#7a7a7a").attr("stroke-width", 2);
ov.append("text").attr("x", 21).attr("y", 30.5).attr("font-family", SANS).attr("font-weight", "bold").attr("font-size", 11).text(headerLeft);
ov.append("text").attr("x", 1043).attr("y", 30.5).attr("font-family", SANS).attr("font-weight", "bold").attr("font-size", 11).text(headerDate);
const MONO = "'Liberation Mono', 'Courier New', monospace";
footerLines.forEach((s, i) => {
  ov.append("text").attr("x", 12).attr("y", 757 + i * 7.4).attr("font-family", MONO).attr("font-size", 8.25)
    .attr("fill", "#333").style("white-space", "pre").text(s);
});
ov.append("text").attr("x", 1113).attr("y", 757).attr("text-anchor", "end").attr("font-family", MONO).attr("font-size", 8.25)
  .attr("fill", "#333").style("white-space", "pre").text(footerCreated);
</script></body></html>
